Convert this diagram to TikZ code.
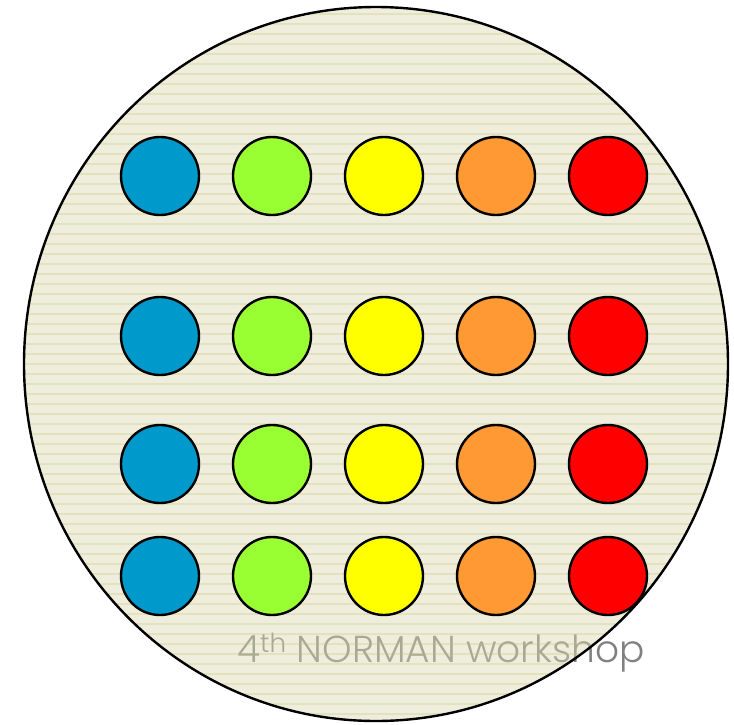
\documentclass[tikz,border=0pt]{standalone}
\usepackage{fontspec}
\newfontfamily\pop{Poppins Light}
\definecolor{cblue}{HTML}{0099CC}
\definecolor{cgreen}{HTML}{99FF33}
\definecolor{cyellow}{HTML}{FFFF00}
\definecolor{corange}{HTML}{FF9933}
\definecolor{cred}{HTML}{FF0000}
\definecolor{wafer}{RGB}{219,217,177}
\definecolor{waferline}{RGB}{193,193,115}
\definecolor{txtgray}{RGB}{128,128,128}
\begin{document}
\begin{tikzpicture}[x=1pt,y=-1pt,
  dot/.style={circle,draw=black,line width=2.4pt,minimum size=78pt,inner sep=0pt},
  waferfill/.style={fill=wafer,fill opacity=0.45},
  waferborder/.style={draw=black,line width=2.4pt}]
\useasboundingbox (0,0) rectangle (734,724);
% text lies under the translucent wafer
\node[anchor=base west,inner sep=0pt,text=txtgray,font=\pop\fontsize{37.5}{37.5}\selectfont] (title) at (237,662) {4\textsuperscript{th} NORMAN workshop};
% wafer
\coordinate (wc) at (376,364);
\fill[waferfill] (wc) ellipse [x radius=352, y radius=357];
\begin{scope}
  \clip (wc) ellipse [x radius=352, y radius=357];
  \foreach \k in {0,...,72} {
    \draw[waferline,opacity=0.26,line width=1.2pt] (0,4+10*\k) -- (734,4+10*\k);
  }
\end{scope}
\draw[waferborder] (wc) ellipse [x radius=352, y radius=357];
% dots
\foreach \r/\y in {1/176,2/336,3/464,4/576} {
  \node[dot,fill=cblue] (c\r1) at (160,\y) {};
  \node[dot,fill=cgreen] (c\r2) at (272,\y) {};
  \node[dot,fill=cyellow] (c\r3) at (384,\y) {};
  \node[dot,fill=corange] (c\r4) at (496,\y) {};
  \node[dot,fill=cred] (c\r5) at (608,\y) {};
}
\end{tikzpicture}
\end{document}
